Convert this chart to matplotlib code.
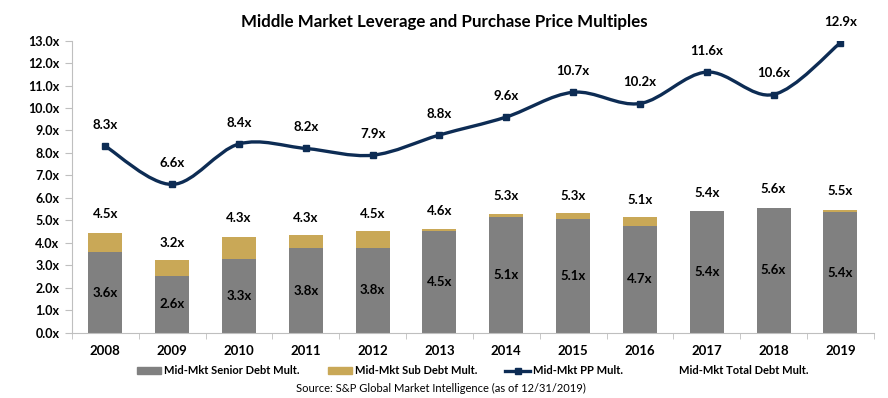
import numpy as np
import matplotlib.pyplot as plt
from matplotlib.path import Path
from matplotlib.patches import PathPatch, Patch
from matplotlib.lines import Line2D

years = ['2008', '2009', '2010', '2011', '2012', '2013', '2014', '2015', '2016', '2017', '2018', '2019']
senior = [3.58, 2.54, 3.30, 3.75, 3.76, 4.52, 5.15, 5.06, 4.75, 5.42, 5.55, 5.36]
sub = [0.87, 0.70, 0.95, 0.58, 0.76, 0.11, 0.15, 0.27, 0.42, 0.0, 0.0, 0.09]
total = [4.5, 3.2, 4.3, 4.3, 4.5, 4.6, 5.3, 5.3, 5.1, 5.4, 5.6, 5.5]
senior_lbl = [3.6, 2.6, 3.3, 3.8, 3.8, 4.5, 5.1, 5.1, 4.7, 5.4, 5.6, 5.4]
pp = [8.3, 6.6, 8.4, 8.2, 7.9, 8.8, 9.6, 10.7, 10.2, 11.6, 10.6, 12.9]

GRAY = '#808080'
GOLD = '#C9A857'
NAVY = '#0D2C54'
FONT = 'Lato'

plt.rcParams['font.family'] = [FONT, 'DejaVu Sans']
plt.rcParams['font.weight'] = 'bold'

fig = plt.figure(figsize=(8.88, 3.98), dpi=100)
ax = fig.add_axes([0.081, 0.164, 0.903, 0.734])

x = np.arange(len(years))
ax.bar(x, senior, 0.51, color=GRAY, zorder=2)
ax.bar(x, sub, 0.51, bottom=senior, color=GOLD, zorder=2)

# smoothed line (Excel style bezier through the points)
pts = np.column_stack([x, pp]).astype(float)
ext = np.vstack([pts[0], pts, pts[-1]])
verts = [tuple(pts[0])]
codes = [Path.MOVETO]
for i in range(len(pts) - 1):
    p0, p1, p2, p3 = ext[i], ext[i + 1], ext[i + 2], ext[i + 3]
    c1 = p1 + (p2 - p0) / 6.0
    c2 = p2 - (p3 - p1) / 6.0
    verts += [tuple(c1), tuple(c2), tuple(p2)]
    codes += [Path.CURVE4] * 3
ax.add_patch(PathPatch(Path(verts, codes), fill=False, edgecolor=NAVY, lw=2.4, zorder=3))
ax.plot(x, pp, ls='none', marker='s', ms=5, color=NAVY, zorder=4)

fs = 9.5
for i in range(len(years)):
    ax.annotate(f'{pp[i]:.1f}x', (x[i], pp[i]), xytext=(0, 11), textcoords='offset points',
                ha='center', va='bottom', fontsize=fs, fontweight='bold')
    ax.annotate(f'{total[i]:.1f}x', (x[i], total[i]), xytext=(0, 13), textcoords='offset points',
                ha='center', va='center', fontsize=fs, fontweight='bold')
    ax.text(x[i], senior[i] / 2, f'{senior_lbl[i]:.1f}x', ha='center', va='center',
            fontsize=fs, fontweight='bold', zorder=5)

ax.set_xlim(-0.5, len(years) - 0.5)
ax.set_ylim(0, 13)
ax.set_yticks(np.arange(0, 14, 1))
ax.set_yticklabels([f'{v:.1f}x' for v in np.arange(0, 14, 1)], fontsize=9, fontweight='bold')
ax.set_xticks(x)
ax.set_xticklabels(years, fontsize=9.5, fontweight='bold')
ax.set_xticks(np.arange(-0.5, len(years), 1), minor=True)
ax.tick_params(axis='x', which='major', length=0, pad=9)
ax.tick_params(axis='x', which='minor', length=4, color='#BFBFBF')
ax.tick_params(axis='y', length=5, color='#BFBFBF', pad=4)
for s in ['top', 'right']:
    ax.spines[s].set_visible(False)
for s in ['left', 'bottom']:
    ax.spines[s].set_color('#BFBFBF')

fig.text(0.5, 0.945, 'Middle Market Leverage and Purchase Price Multiples', ha='center', va='center',
         fontsize=12.2, fontweight='bold')

handles = [Patch(color=GRAY), Patch(color=GOLD),
           Line2D([], [], color=NAVY, lw=2.4, marker='s', ms=4),
           Line2D([], [], ls='none')]
labels = ['Mid-Mkt Senior Debt Mult.', 'Mid-Mkt Sub Debt Mult.', 'Mid-Mkt PP Mult.', 'Mid-Mkt Total Debt Mult.']
fig.legend(handles, labels, loc='center', bbox_to_anchor=(0.532, 0.068), ncol=4, frameon=False,
           handlelength=2.2, handleheight=0.7, columnspacing=2.5, handletextpad=0.3,
           prop={'weight': 'bold', 'size': 8})
fig.text(0.496, 0.025, 'Source: S&P Global Market Intelligence (as of 12/31/2019)', ha='center',
         va='center', fontsize=8, fontweight='normal')

fig.savefig('out.png', dpi=100)
